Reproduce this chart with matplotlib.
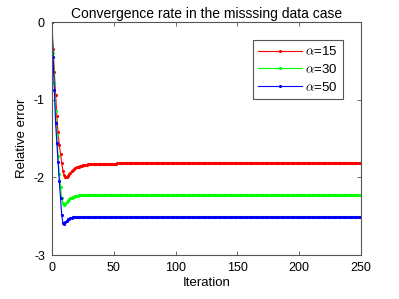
import numpy as np
from matplotlib import pyplot as plt

# (relative error per iteration)
iters = np.arange(0, 251)

red_head = [0, -0.35, -0.64, -0.94, -1.21, -1.42, -1.58, -1.70, -1.82, -1.92,
            -1.97, -1.99, -1.99, -1.98, -1.96, -1.94, -1.92, -1.91, -1.89, -1.88,
            -1.87, -1.86, -1.86, -1.85, -1.85, -1.84, -1.84, -1.84, -1.84, -1.83]
red_mid = [-1.833] * 23     # iterations 30..52
red_tail = [-1.82] * 198    # iterations 53..250

green_head = [0, -0.40, -0.78, -1.15, -1.45, -1.72, -1.95, -2.13, -2.26, -2.33,
              -2.35, -2.34, -2.32, -2.30, -2.28, -2.27, -2.26, -2.25, -2.25, -2.24,
              -2.24, -2.24]
green_tail = [-2.23] * 229  # iterations 22..250

blue_head = [0, -0.45, -0.88, -1.30, -1.56, -1.80, -2.05, -2.27, -2.49, -2.59,
             -2.60, -2.58, -2.56, -2.54, -2.53, -2.52, -2.52, -2.51, -2.51]
blue_tail = [-2.51] * 232   # iterations 19..250

red = red_head + red_mid + red_tail
green = green_head + green_tail
blue = blue_head + blue_tail

labels = [r'$\alpha$=15', r'$\alpha$=30', r'$\alpha$=50']

plt.rcParams['font.family'] = ['Liberation Sans', 'DejaVu Sans']
plt.rcParams['mathtext.fontset'] = 'cm'

fig = plt.figure(figsize=(3.99, 2.99), dpi=100)
ax = fig.add_axes([0.130, 0.147, 0.775, 0.779])

ax.plot(iters, red, color='#ff0000', lw=0.8, marker='.', markersize=2.5, label=labels[0])
ax.plot(iters, green, color='#00ff00', lw=0.8, marker='.', markersize=2.5, label=labels[1])
ax.plot(iters, blue, color='#0000ff', lw=0.8, marker='.', markersize=2.5, label=labels[2])

ax.set_xlim(0, 250)
ax.set_ylim(-3, 0)
ax.set_xticks([0, 50, 100, 150, 200, 250])
ax.set_yticks([-3, -2, -1, 0])
ax.set_yticklabels(['-3', '-2', '-1', '0'])

for s in ax.spines.values():
    s.set_color('#555555')
    s.set_linewidth(0.8)
ax.tick_params(direction='in', top=True, right=True, length=3, width=0.6,
               color='#555555', labelsize=9, pad=5)

ax.set_title('Convergence rate in the misssing data case', fontsize=10, pad=3)
ax.set_xlabel('Iteration', fontsize=9.5, labelpad=2)
ax.set_ylabel('Relative error', fontsize=9.5, labelpad=4)

leg = ax.legend(loc='upper right', bbox_to_anchor=(0.942, 0.923), borderaxespad=0,
                fontsize=9.5, numpoints=1,
                fancybox=False, framealpha=1, edgecolor='#555555',
                handlelength=3.3, handletextpad=0.3, borderpad=0.4,
                labelspacing=0.35, markerscale=1)
leg.get_frame().set_linewidth(0.8)

fig.savefig('out.png', dpi=100)
